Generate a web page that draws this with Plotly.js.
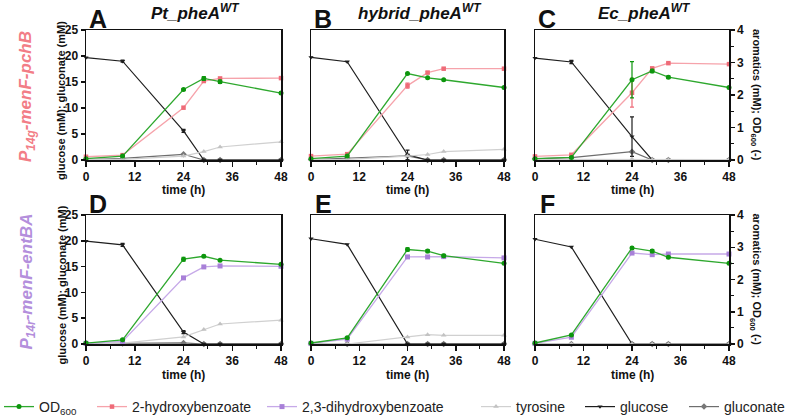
<!DOCTYPE html>
<html>
<head>
<meta charset="utf-8">
<script src="https://cdn.plot.ly/plotly-3.0.1.min.js"></script>
<style>html,body{margin:0;padding:0;background:#fff;}#chart{width:789px;height:417px;}</style>
</head>
<body>
<div id="chart"></div>
<script>
// ---------- DATA ----------
const time = [0, 9, 24, 29, 33, 48];

// Panel A: Pt_pheA WT, P14g-menF-pchB
const A_od   = [0.04, 0.12, 2.17, 2.51, 2.41, 2.06];
const A_prod = [0.10, 0.15, 1.61, 2.43, 2.51, 2.52];
const A_tyr  = [0.02, 0.02, 0.12, 0.26, 0.40, 0.56];
const A_glc  = [19.7, 19.0, 5.6, 0, 0, 0];
const A_glcn = [0.1, 0.3, 1.1, 0, 0, 0];
const A_od_err  = [0, 0, 0.03, 0.06, 0.05, 0.03];
const A_glc_err = [0, 0.2, 0.3, 0, 0, 0];

// Panel B: hybrid_pheA WT, P14g-menF-pchB
const B_od   = [0.04, 0.12, 2.66, 2.53, 2.47, 2.23];
const B_prod = [0.12, 0.18, 2.29, 2.69, 2.81, 2.81];
const B_tyr  = [0.01, 0.02, 0.12, 0.17, 0.26, 0.33];
const B_glc  = [19.75, 18.9, 1.0, 0, 0, 0];
const B_glcn = [0.1, 0.4, 0.8, 0, 0, 0];
const B_prod_err = [0, 0, 0.08, 0.03, 0.02, 0.02];
const B_glc_err  = [0, 0, 0.9, 0, 0, 0];

// Panel C: Ec_pheA WT, P14g-menF-pchB
const C_od   = [0.04, 0.08, 2.47, 2.74, 2.55, 2.23];
const C_prod = [0.11, 0.16, 2.07, 2.82, 2.98, 2.95];
const C_tyr  = [0.02, 0.02, 0.03, 0.01, 0.01, 0.01];
const C_glc  = [19.6, 18.85, 4.5, 0, 0, 0];
const C_glcn = [0.2, 0.45, 1.6, 0, 0, 0];
const C_od_err   = [0, 0, 0.56, 0.05, 0.04, 0.02];
const C_prod_err = [0, 0, 0.44, 0.02, 0.02, 0.02];
const C_glc_err  = [0, 0.3, 3.8, 0, 0, 0];

// Panel D: Pt_pheA WT, P14r-menF-entBA
const D_od   = [0.03, 0.13, 2.63, 2.72, 2.60, 2.47];
const D_prod = [0.02, 0.08, 2.05, 2.39, 2.42, 2.41];
const D_tyr  = [0.00, 0.03, 0.22, 0.45, 0.62, 0.74];
const D_glc  = [19.95, 19.2, 2.3, 0, 0, 0];
const D_glcn = [0.1, 0.1, 0.2, 0, 0, 0];
const D_od_err  = [0, 0.02, 0.06, 0.03, 0.02, 0.02];
const D_glc_err = [0, 0.3, 0.3, 0, 0, 0];

// Panel E: hybrid_pheA WT, P14r-menF-entBA
const E_od   = [0.03, 0.19, 2.93, 2.88, 2.74, 2.50];
const E_prod = [0.02, 0.15, 2.70, 2.70, 2.71, 2.67];
const E_tyr  = [0.00, 0.00, 0.22, 0.29, 0.27, 0.27];
const E_glc  = [20.4, 19.3, 0, 0, 0, 0];
const E_glcn = [0, 0, 0, 0, 0, 0];
const E_od_err = [0, 0, 0.05, 0.05, 0.04, 0.02];

// Panel F: Ec_pheA WT, P14r-menF-entBA
const F_od   = [0.03, 0.28, 2.98, 2.88, 2.69, 2.50];
const F_prod = [0.02, 0.21, 2.82, 2.77, 2.79, 2.79];
const F_tyr  = [0.00, 0.00, 0.00, 0.00, 0.00, 0.00];
const F_glc  = [20.3, 18.8, 0, 0, 0, 0];
const F_glcn = [0, 0, 0, 0, 0, 0];
const F_od_err = [0, 0, 0.03, 0.05, 0.02, 0.02];

const panelTitles = ['Pt_pheA', 'hybrid_pheA', 'Ec_pheA'];
const panelLetters = ['A', 'B', 'C', 'D', 'E', 'F'];
const rowLabels = ['P<sub>14g</sub>-menF-pchB', 'P<sub>14r</sub>-menF-entBA'];
const xTicks = [0, 12, 24, 36, 48];

// ---------- STYLE ----------
const FONT = 'Liberation Sans, Arial, sans-serif';
const W = 789, H = 417;
const px = v => v / W;
const py = v => 1 - v / H;
const colDom = [[86, 281], [311, 504], [535, 729]];
const rowDom = [[30, 160], [215, 344]];

const C_GREEN_L = '#2ea82e', C_GREEN_M = '#0d960d';
const C_PINK_L = '#f6a3ab', C_PINK_M = '#ef6b78';
const C_PURP_L = '#c6a9e8', C_PURP_M = '#a880d8';
const C_TYR_L = '#d0d0d0', C_TYR_M = '#c2c2c2';
const C_GLC = '#1e1e1e';
const C_GLCN_L = '#6e6e6e', C_GLCN_M = '#777777';

// legend ids and text start positions (px)
const legendIds = {od: 'legend', hb: 'legend2', dhb: 'legend3', tyr: 'legend4', glc: 'legend5', glcn: 'legend6'};
const legendTextX = {legend: 37, legend2: 130, legend3: 300, legend4: 514, legend5: 618, legend6: 722};

const panels = [
  {od: A_od, prod: A_prod, tyr: A_tyr, glc: A_glc, glcn: A_glcn, odErr: A_od_err, glcErr: A_glc_err, type: 'hb'},
  {od: B_od, prod: B_prod, tyr: B_tyr, glc: B_glc, glcn: B_glcn, prodErr: B_prod_err, glcErr: B_glc_err, type: 'hb'},
  {od: C_od, prod: C_prod, tyr: C_tyr, glc: C_glc, glcn: C_glcn, odErr: C_od_err, prodErr: C_prod_err, glcErr: C_glc_err, type: 'hb'},
  {od: D_od, prod: D_prod, tyr: D_tyr, glc: D_glc, glcn: D_glcn, odErr: D_od_err, glcErr: D_glc_err, type: 'dhb'},
  {od: E_od, prod: E_prod, tyr: E_tyr, glc: E_glc, glcn: E_glcn, odErr: E_od_err, type: 'dhb'},
  {od: F_od, prod: F_prod, tyr: F_tyr, glc: F_glc, glcn: F_glcn, odErr: F_od_err, type: 'dhb'}
];

function errY(arr, color) {
  if (!arr) return undefined;
  return {type: 'data', array: arr, visible: true, color: color, thickness: 1.2, width: 2};
}

const traces = [];
const layout = {
  width: W, height: H,
  margin: {l: 0, r: 0, t: 0, b: 0, autoexpand: false},
  paper_bgcolor: '#fff', plot_bgcolor: '#fff',
  font: {family: FONT, color: '#111'},
  showlegend: true,
  annotations: [], shapes: []
};
Object.keys(legendTextX).forEach(id => {
  layout[id] = {
    orientation: 'h', x: px(legendTextX[id] - 38), y: py(407), yanchor: 'middle', xanchor: 'left',
    font: {family: FONT, size: 14, color: '#222'}, bgcolor: 'rgba(0,0,0,0)',
    itemwidth: 30
  };
});

panels.forEach((p, i) => {
  const n = i + 1;
  const xa = n === 1 ? 'x' : 'x' + n;
  const yl = n === 1 ? 'y' : 'y' + n;
  const yr = 'y' + (n + 6);
  const col = i % 3, row = Math.floor(i / 3);
  const first = (i === 0);
  const isHB = p.type === 'hb';

  traces.push({
    x: time, y: p.tyr, xaxis: xa, yaxis: yr, name: 'tyrosine', legend: legendIds.tyr,
    mode: 'lines+markers', line: {color: C_TYR_L, width: 1.2},
    marker: {symbol: 'triangle-up', size: 5, color: C_TYR_M},
    showlegend: first, cliponaxis: false
  });
  traces.push({
    x: time, y: p.glcn, xaxis: xa, yaxis: yl, name: 'gluconate', legend: legendIds.glcn,
    mode: 'lines+markers', line: {color: C_GLCN_L, width: 1.2},
    marker: {symbol: 'diamond', size: 5, color: C_GLCN_M},
    showlegend: first, cliponaxis: false
  });
  traces.push({
    x: time, y: p.prod, xaxis: xa, yaxis: yr,
    name: isHB ? '2-hydroxybenzoate' : '2,3-dihydroxybenzoate',
    legend: isHB ? legendIds.hb : legendIds.dhb,
    mode: 'lines+markers',
    line: {color: isHB ? C_PINK_L : C_PURP_L, width: 1.3},
    marker: {symbol: 'square', size: isHB ? 4.5 : 5, color: isHB ? C_PINK_M : C_PURP_M},
    error_y: errY(p.prodErr, isHB ? C_PINK_M : C_PURP_M),
    showlegend: (i === 0 || i === 3), cliponaxis: false
  });
  traces.push({
    x: time, y: p.od, xaxis: xa, yaxis: yr, name: 'OD<sub>600</sub>', legend: legendIds.od,
    mode: 'lines+markers', line: {color: C_GREEN_L, width: 1.3},
    marker: {symbol: 'circle', size: 5, color: C_GREEN_M},
    error_y: errY(p.odErr, C_GREEN_M),
    showlegend: first, cliponaxis: false
  });
  traces.push({
    x: time, y: p.glc, xaxis: xa, yaxis: yl, name: 'glucose', legend: legendIds.glc,
    mode: 'lines+markers', line: {color: C_GLC, width: 1.2},
    marker: {symbol: 'triangle-down', size: 4.5, color: C_GLC},
    error_y: errY(p.glcErr, C_GLC),
    showlegend: first, cliponaxis: false
  });

  const xKey = n === 1 ? 'xaxis' : 'xaxis' + n;
  const ylKey = n === 1 ? 'yaxis' : 'yaxis' + n;
  const yrKey = 'yaxis' + (n + 6);

  layout[xKey] = {
    domain: [px(colDom[col][0]), px(colDom[col][1])],
    anchor: yl, range: [0, 48], tickvals: xTicks,
    ticks: 'outside', ticklen: 5, tickwidth: 1.5, tickcolor: '#111',
    minor: {tickvals: [6, 18, 30, 42], ticks: 'outside', ticklen: 3, tickwidth: 1.2, tickcolor: '#111'},
    showline: true, linecolor: '#111', linewidth: 1.5, mirror: true,
    showgrid: false, zeroline: false,
    tickfont: {family: FONT, size: 12, color: '#111', weight: 'bold'}
  };
  const leftLabels = (col === 0);
  layout[ylKey] = {
    domain: [py(rowDom[row][1]), py(rowDom[row][0])],
    anchor: xa, range: [0, 25], dtick: 5,
    ticks: leftLabels ? 'outside' : '', ticklen: 4, tickwidth: 1.5, tickcolor: '#111',
    showticklabels: leftLabels,
    showline: true, linecolor: '#111', linewidth: 1.5, mirror: true,
    showgrid: false, zeroline: false,
    tickfont: {family: FONT, size: 12, color: '#111', weight: 'bold'}
  };
  const rightLabels = (col === 2);
  layout[yrKey] = {
    overlaying: yl, side: 'right', anchor: xa, range: [0, 4], dtick: 1,
    visible: rightLabels,
    ticks: 'outside', ticklen: 4, tickwidth: 1.5, tickcolor: '#111',
    minor: {dtick: 0.5, ticks: 'outside', ticklen: 3, tickwidth: 1.2, tickcolor: '#111'},
    showline: true, linecolor: '#111', linewidth: 1.5,
    showgrid: false, zeroline: false,
    tickfont: {family: FONT, size: 12, color: '#111', weight: 'bold'}
  };

  const cx = (colDom[col][0] + colDom[col][1]) / 2;
  layout.annotations.push({
    text: panelLetters[i], xref: 'paper', yref: 'paper',
    x: px(colDom[col][0] + 12), y: py(row === 0 ? 19 : 204),
    xanchor: 'center', yanchor: 'middle', showarrow: false,
    font: {family: FONT, size: 25, color: '#111', weight: 'bold'}
  });
  layout.annotations.push({
    text: 'time (h)', xref: 'paper', yref: 'paper',
    x: px(cx), y: py(row === 0 ? 190 : 375),
    xanchor: 'center', yanchor: 'middle', showarrow: false,
    font: {family: FONT, size: 12, color: '#111', weight: 'bold'}
  });
});

panelTitles.forEach((t, c) => {
  const cx = (colDom[c][0] + colDom[c][1]) / 2;
  layout.annotations.push({
    text: '<i>' + t + '<sup>WT</sup></i>', xref: 'paper', yref: 'paper',
    x: px(cx + 12), y: py(12), xanchor: 'center', yanchor: 'middle', showarrow: false,
    font: {family: FONT, size: 17, color: '#111', weight: 'bold'}
  });
});

const rowColors = ['#f27d86', '#b48fdc'];
[0, 1].forEach(r => {
  const cy = (rowDom[r][0] + rowDom[r][1]) / 2;
  layout.annotations.push({
    text: '<i>' + rowLabels[r] + '</i>', xref: 'paper', yref: 'paper',
    x: px(27), y: py(cy + 2), xanchor: 'center', yanchor: 'middle', showarrow: false,
    textangle: -90,
    font: {family: FONT, size: 17, color: rowColors[r], weight: 'bold'}
  });
  layout.annotations.push({
    text: 'glucose (mM); gluconate (mM)', xref: 'paper', yref: 'paper',
    x: px(61), y: py(cy + 6), xanchor: 'center', yanchor: 'middle', showarrow: false,
    textangle: -90,
    font: {family: FONT, size: 11, color: '#111', weight: 'bold'}
  });
  layout.annotations.push({
    text: 'aromatics (mM); OD<sub>600</sub> (-)', xref: 'paper', yref: 'paper',
    x: px(756), y: py(cy), xanchor: 'center', yanchor: 'middle', showarrow: false,
    textangle: 90,
    font: {family: FONT, size: 11, color: '#111', weight: 'bold'}
  });
});

Plotly.newPlot('chart', traces, layout, {staticPlot: true, displayModeBar: false});
</script>
</body>
</html>
